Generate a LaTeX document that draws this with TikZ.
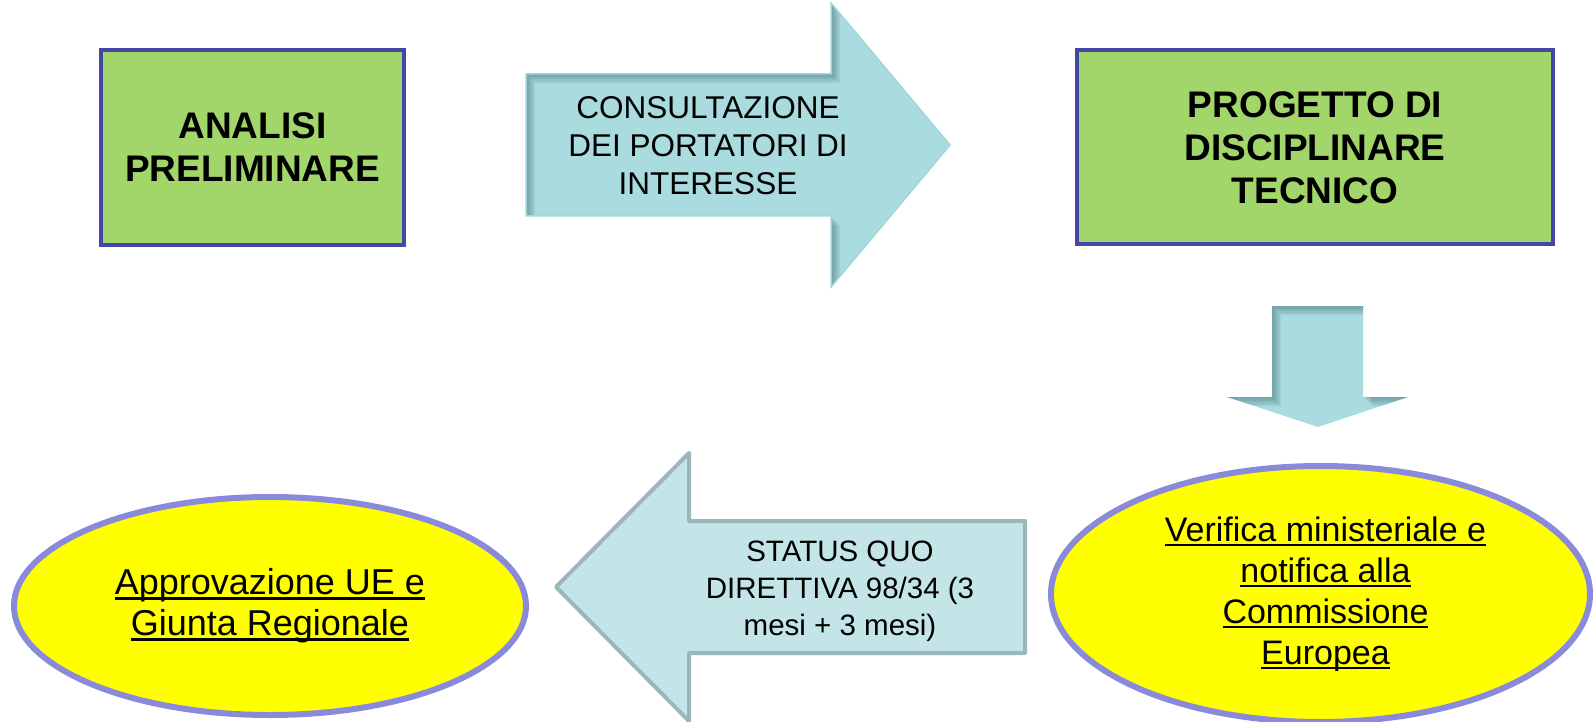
\documentclass[tikz,border=0pt]{standalone}
\usepackage{fontspec}
\setmainfont{Liberation Sans}
\usetikzlibrary{positioning,shapes.geometric}
\definecolor{boxgreen}{HTML}{A2D66A}
\definecolor{boxblue}{HTML}{4646A6}
\definecolor{ellblue}{HTML}{8A8ADB}
\definecolor{ellfill}{HTML}{FFFF00}
\definecolor{arrcyan}{HTML}{AADBDF}
\definecolor{arredge}{HTML}{A2D6DB}
\definecolor{arrshade}{HTML}{4E7E83}
\definecolor{backfill}{HTML}{C4E5E8}
\definecolor{backedge}{HTML}{9BB7BA}
\newcommand{\ulined}[1]{\setbox0\hbox{#1}\rlap{\rule[-5pt]{\wd0}{2.4pt}}\box0}
\tikzset{
greenbox/.style={
  rectangle, draw=boxblue, line width=4pt, fill=boxgreen,
  align=center, font=\fontsize{37}{43}\selectfont\bfseries
  },
yellowell/.style={
  ellipse, draw=ellblue, line width=6pt, fill=ellfill,
  align=center, inner sep=0pt, font=\fontsize{34}{41}\selectfont
  },
arrowtext/.style={
  align=center, inner sep=0pt
  },
innershade/.style={
  fill=arrshade, opacity=0.11, even odd rule
  }
}
\newcommand{\arrowright}{(526,74) -- (831,74) -- (831,3) -- (950,145)
  -- (831,287) -- (831,216) -- (526,216) -- cycle}
\newcommand{\arrowdown}{(1272,306) -- (1363,306) -- (1363,397) -- (1408,397)
  -- (1318,427) -- (1227,397) -- (1272,397) -- cycle}
\newcommand{\arrowleft}{(556,587) -- (689,453) -- (689,521) -- (1025,521)
  -- (1025,653) -- (689,653) -- (689,721) -- cycle}

\begin{document}
\begin{tikzpicture}[x=1pt,y=-1pt]
\useasboundingbox (0,0) rectangle (1593,722);

% boxes

\node[greenbox, minimum width=303pt, minimum height=195pt] at (252.5,147.5)(box1)
{ANALISI\\PRELIMINARE};
\node[greenbox, minimum width=476pt, minimum height=194pt, right=669pt of box1](box2)
{PROGETTO DI\\DISCIPLINARE\\TECNICO};

% ellipses

\node[yellowell, minimum width=539pt, minimum height=256pt] at (1320.5,594)(ell2)
{\hspace*{10pt}\ulined{Verifica ministeriale e}\\\hspace*{10pt}\ulined{notifica alla}\\
\hspace*{10pt}\ulined{Commissione}\\\hspace*{10pt}\ulined{Europea}};
\node[yellowell, minimum width=512pt, minimum height=218pt, font=\fontsize{36}{41}\selectfont]
at (270,606)(ell1)
{\ulined{Approvazione UE e}\\\ulined{Giunta Regionale}};

% arrow 1

\begin{scope}
\clip \arrowright;
\fill[arrcyan] \arrowright;
\foreach \k in {1,...,7}{
  \fill[innershade, shift={(1.3*\k,1.3*\k)}] (-100,-100) rectangle (1700,830) \arrowright;
}
\end{scope}
\draw[arredge, line width=1.5pt] \arrowright;

\node[arrowtext, font=\fontsize{31.5}{38}\selectfont] at (708,146)(txt1)
{CONSULTAZIONE\\DEI PORTATORI DI\\INTERESSE};

% arrow 2

\begin{scope}
\clip \arrowdown;
\fill[arrcyan] \arrowdown;
\foreach \k in {1,...,7}{
  \fill[innershade, shift={(1.3*\k,1.3*\k)}] (-100,-100) rectangle (1700,830) \arrowdown;
}
\end{scope}

% arrow 3

\draw[backedge, fill=backfill, line width=4pt, line join=round] \arrowleft;

\node[arrowtext, font=\fontsize{29.5}{37}\selectfont] at (840,591)(txt2)
{STATUS QUO\\DIRETTIVA 98/34 (3\\mesi + 3 mesi)};

\end{tikzpicture}
\end{document}
